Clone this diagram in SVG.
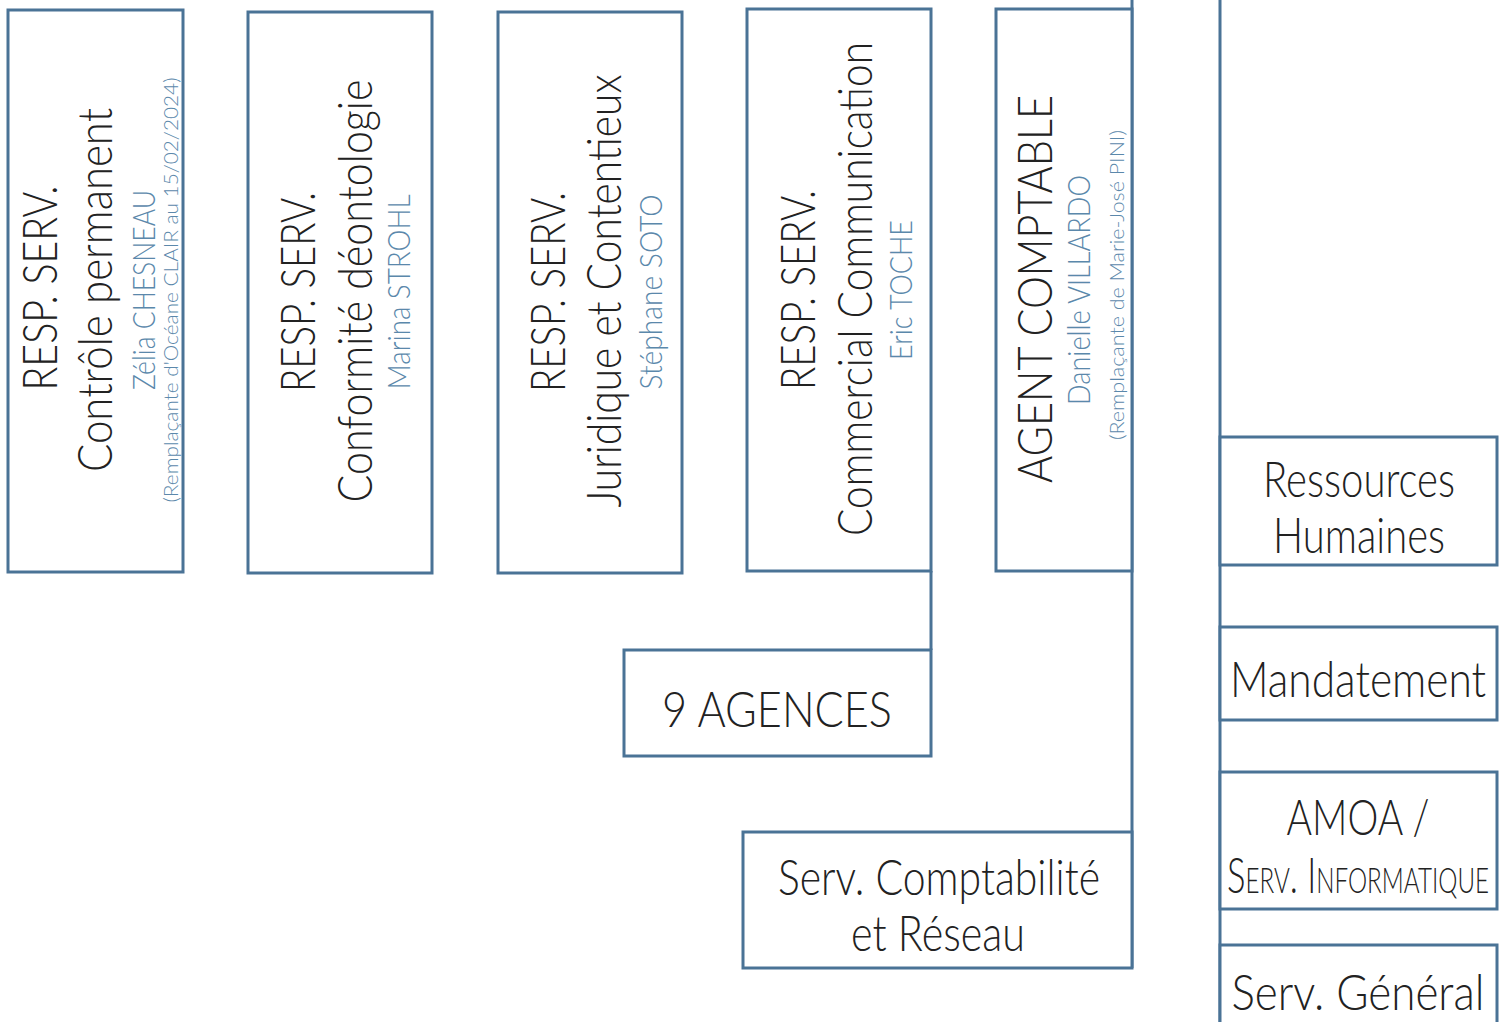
<svg xmlns="http://www.w3.org/2000/svg" width="1502" height="1022" viewBox="0 0 1502 1022">
<style>
.box{fill:#fff;stroke:#4a7396;stroke-width:3}
.ln{stroke:#4a7396;stroke-width:3;fill:none}
text{font-family:Lato,"DejaVu Sans","Liberation Sans",sans-serif;font-weight:300;text-anchor:middle;fill:#222}
.big{font-size:48px}
.lab{font-size:50px}
.nm{font-size:32px;fill:#5b88ab}
.rp{font-size:20px;fill:#5b88ab}
.sc{font-variant:small-caps}
</style>
<rect width="1502" height="1022" fill="#fff"/>
<g id="connectors">
<line class="ln" x1="1132" y1="0" x2="1132" y2="968"/>
<line class="ln" x1="931" y1="571" x2="931" y2="650"/>
<line class="ln" x1="1220" y1="0" x2="1220" y2="1022"/>
</g>
<g id="controle">
<rect class="box" x="8" y="10" width="175" height="562"/>
<text class="big" x="57" y="288" transform="rotate(-90 57 288)" textLength="205" lengthAdjust="spacingAndGlyphs">RESP. SERV.</text>
<text class="big" x="112" y="290" transform="rotate(-90 112 290)" textLength="364" lengthAdjust="spacingAndGlyphs">Contrôle permanent</text>
<text class="nm" x="155" y="290" transform="rotate(-90 155 290)" textLength="200" lengthAdjust="spacingAndGlyphs">Zélia CHESNEAU</text>
<text class="rp" x="178" y="290" transform="rotate(-90 178 290)" textLength="425" lengthAdjust="spacingAndGlyphs">(Remplaçante d'Océane CLAIR au 15/02/2024)</text>
</g>
<g id="conformite">
<rect class="box" x="248" y="12" width="184" height="561"/>
<text class="big" x="315" y="292" transform="rotate(-90 315 292)" textLength="200" lengthAdjust="spacingAndGlyphs">RESP. SERV.</text>
<text class="big" x="372" y="291" transform="rotate(-90 372 291)" textLength="423" lengthAdjust="spacingAndGlyphs">Conformité déontologie</text>
<text class="nm" x="410" y="292" transform="rotate(-90 410 292)" textLength="195" lengthAdjust="spacingAndGlyphs">Marina STROHL</text>
</g>
<g id="juridique">
<rect class="box" x="498" y="12" width="184" height="561"/>
<text class="big" x="565" y="292" transform="rotate(-90 565 292)" textLength="200" lengthAdjust="spacingAndGlyphs">RESP. SERV.</text>
<text class="big" x="621" y="291" transform="rotate(-90 621 291)" textLength="433" lengthAdjust="spacingAndGlyphs">Juridique et Contentieux</text>
<text class="nm" x="662" y="292" transform="rotate(-90 662 292)" textLength="195" lengthAdjust="spacingAndGlyphs">Stéphane SOTO</text>
</g>
<g id="commercial">
<rect class="box" x="747" y="9" width="184" height="562"/>
<text class="big" x="815" y="290" transform="rotate(-90 815 290)" textLength="200" lengthAdjust="spacingAndGlyphs">RESP. SERV.</text>
<text class="big" x="872" y="289" transform="rotate(-90 872 289)" textLength="494" lengthAdjust="spacingAndGlyphs">Commercial Communication</text>
<text class="nm" x="912" y="290" transform="rotate(-90 912 290)" textLength="140" lengthAdjust="spacingAndGlyphs">Eric TOCHE</text>
</g>
<g id="agent-comptable">
<rect class="box" x="996" y="9" width="136" height="562"/>
<text class="big" x="1052" y="289" transform="rotate(-90 1052 289)" textLength="388" lengthAdjust="spacingAndGlyphs">AGENT COMPTABLE</text>
<text class="nm" x="1090" y="290" transform="rotate(-90 1090 290)" textLength="230" lengthAdjust="spacingAndGlyphs">Danielle VILLARDO</text>
<text class="rp" x="1124" y="285" transform="rotate(-90 1124 285)" textLength="310" lengthAdjust="spacingAndGlyphs">(Remplaçante de Marie-José PINI)</text>
</g>
<g id="agences">
<rect class="box" x="624" y="650" width="307" height="106"/>
<text class="lab" x="777" y="727" textLength="230" lengthAdjust="spacingAndGlyphs">9 AGENCES</text>
</g>
<g id="comptabilite">
<rect class="box" x="743" y="832" width="389" height="136"/>
<text class="lab" x="939" y="895" textLength="322" lengthAdjust="spacingAndGlyphs">Serv. Comptabilité</text>
<text class="lab" x="938" y="951" textLength="174" lengthAdjust="spacingAndGlyphs">et Réseau</text>
</g>
<g id="rh">
<rect class="box" x="1220" y="437" width="277" height="128"/>
<text class="lab" x="1359" y="497" textLength="192" lengthAdjust="spacingAndGlyphs">Ressources</text>
<text class="lab" x="1359" y="553" textLength="172" lengthAdjust="spacingAndGlyphs">Humaines</text>
</g>
<g id="mandatement">
<rect class="box" x="1220" y="627" width="277" height="93"/>
<text class="lab" x="1358" y="697" textLength="256" lengthAdjust="spacingAndGlyphs">Mandatement</text>
</g>
<g id="amoa">
<rect class="box" x="1220" y="772" width="277" height="137"/>
<text class="lab" x="1358" y="835" textLength="143" lengthAdjust="spacingAndGlyphs">AMOA /</text>
<text class="lab sc" x="1358" y="893" textLength="262" lengthAdjust="spacingAndGlyphs">Serv. Informatique</text>
</g>
<g id="general">
<rect class="box" x="1220" y="945" width="277" height="90"/>
<text class="lab" x="1358" y="1010" textLength="253" lengthAdjust="spacingAndGlyphs">Serv. Général</text>
</g>
</svg>
